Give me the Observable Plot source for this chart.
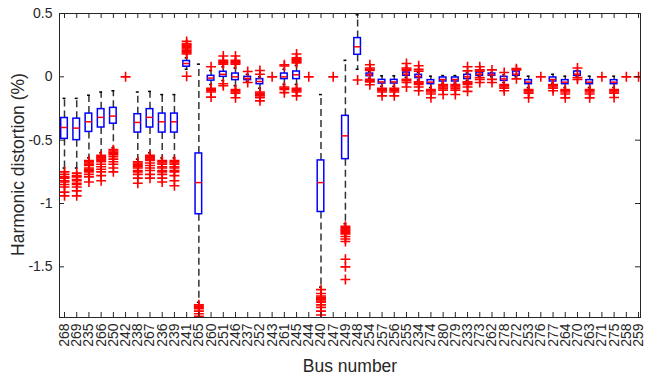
<!DOCTYPE html>
<html><head><meta charset="utf-8">
<script src="https://cdn.jsdelivr.net/npm/d3@7"></script>
<script src="https://cdn.jsdelivr.net/npm/@observablehq/plot@0.6"></script>
<style>body{margin:0;background:#fff;overflow:hidden}</style>
</head><body><div id="chart"></div>
<script>
const buses = [268,269,235,266,250,242,238,267,236,239,241,265,260,251,246,237,252,243,261,245,244,240,247,249,248,254,257,256,255,234,274,280,279,233,273,262,278,272,253,276,277,264,270,263,271,275,258,259];
const q1  = [-0.49,-0.50,-0.435,-0.40,-0.37,null,-0.44,-0.40,-0.44,-0.44,0.08,-1.085,-0.03,0.0,-0.026,-0.026,-0.058,null,-0.018,-0.018,null,-1.067,null,-0.65,0.174,0.005,-0.053,-0.053,0.008,-0.01,-0.058,-0.037,-0.037,-0.018,0.008,0.008,-0.032,0.008,-0.058,null,-0.037,-0.058,0.008,-0.058,null,-0.058,null,null];
const med = [-0.40,-0.405,-0.355,-0.32,-0.31,null,-0.36,-0.32,-0.355,-0.355,0.105,-0.835,-0.01,0.02,0.0,-0.013,-0.037,null,0.0,0.016,null,-0.835,null,-0.466,0.237,0.016,-0.04,-0.04,0.021,0.003,-0.042,-0.021,-0.021,0.0,0.021,0.016,-0.016,0.021,-0.042,null,-0.021,-0.042,0.021,-0.042,null,-0.042,null,null];
const q3  = [-0.325,-0.33,-0.29,-0.255,-0.245,null,-0.295,-0.255,-0.29,-0.29,0.125,-0.605,0.008,0.04,0.026,0.0,-0.018,null,0.026,0.042,null,-0.66,null,-0.308,0.306,0.026,-0.024,-0.024,0.034,0.016,-0.026,-0.005,-0.005,0.016,0.034,0.026,0.0,0.042,-0.026,null,-0.005,-0.026,0.042,-0.026,null,-0.026,null,null];
const wlo = [-0.72,-0.72,-0.64,-0.60,-0.56,null,-0.65,-0.60,-0.64,-0.64,0.06,-1.78,-0.06,-0.03,-0.07,-0.035,-0.09,null,-0.06,-0.06,null,-1.66,null,-1.16,0.06,-0.01,-0.075,-0.075,-0.005,-0.025,-0.085,-0.05,-0.05,-0.03,0.0,0.0,-0.045,0.0,-0.085,null,-0.05,-0.085,0.0,-0.085,null,-0.085,null,null];
const whi = [-0.17,-0.17,-0.145,-0.12,-0.11,null,-0.12,-0.115,-0.14,-0.14,0.15,0.10,0.05,0.08,0.07,0.02,0.0,null,0.06,0.09,null,-0.14,null,0.13,0.49,0.04,0.008,0.008,0.045,0.035,0.005,0.01,0.01,0.03,0.04,0.035,0.015,0.05,0.005,null,0.02,0.005,0.05,0.005,null,0.005,null,null];
const outliers = [
  [-0.75,-0.77,-0.79,-0.80,-0.82,-0.83,-0.85,-0.87,-0.91,-0.94],
  [-0.76,-0.78,-0.79,-0.81,-0.82,-0.84,-0.85,-0.87,-0.90,-0.94],
  [-0.66,-0.67,-0.68,-0.69,-0.70,-0.72,-0.73,-0.74,-0.75,-0.77,-0.79,-0.83],
  [-0.62,-0.63,-0.64,-0.65,-0.66,-0.67,-0.69,-0.71,-0.73,-0.75,-0.78,-0.82],
  [-0.575,-0.585,-0.595,-0.605,-0.615,-0.63,-0.65,-0.67,-0.69,-0.72,-0.75],
  [0.0],
  [-0.67,-0.68,-0.69,-0.70,-0.71,-0.72,-0.74,-0.75,-0.77,-0.80,-0.84],
  [-0.62,-0.63,-0.64,-0.65,-0.66,-0.68,-0.70,-0.72,-0.74,-0.77,-0.80],
  [-0.66,-0.67,-0.68,-0.69,-0.71,-0.72,-0.74,-0.75,-0.77,-0.80,-0.83],
  [-0.66,-0.67,-0.68,-0.69,-0.71,-0.72,-0.74,-0.75,-0.78,-0.82,-0.86],
  [0.18,0.19,0.20,0.21,0.22,0.23,0.24,0.25,0.26,0.28,0.005],
  [-1.80,-1.81,-1.82,-1.83,-1.85,-1.87,-1.89],
  [0.08,-0.09,-0.10,-0.11,-0.12,-0.16],
  [0.10,0.11,0.12,0.13,0.165,-0.055,-0.07],
  [0.10,0.11,0.12,0.13,0.165,-0.10,-0.11,-0.12,-0.13,-0.165],
  [0.042,-0.045],
  [0.05,0.02,-0.12,-0.13,-0.14,-0.15,-0.165,-0.19],
  [0.0],
  [0.085,0.095,-0.08,-0.09,-0.10,-0.125],
  [0.11,0.12,0.13,0.14,0.15,0.18,-0.09,-0.10,-0.11,-0.12,-0.15],
  [0.0],
  [-1.68,-1.71,-1.73,-1.74,-1.75,-1.76,-1.77,-1.78,-1.80,-1.82,-1.85,-1.88],
  [0.0],
  [-1.18,-1.19,-1.20,-1.21,-1.22,-1.23,-1.24,-1.26,-1.28,-1.30,-1.44,-1.50,-1.60],
  [-0.025],
  [0.05,0.06,0.07,0.095,-0.02,-0.03,-0.04,-0.063],
  [-0.09,-0.10,-0.11,-0.12,-0.15],
  [-0.09,-0.10,-0.11,-0.12,-0.15],
  [0.05,0.06,0.07,0.105,-0.02,-0.03,-0.045,-0.08],
  [0.045,0.06,0.087,-0.04,-0.05,-0.06,-0.08,-0.11],
  [-0.10,-0.11,-0.12,-0.135,-0.165],
  [-0.06,-0.07,-0.08,-0.09,-0.105,-0.14],
  [-0.06,-0.07,-0.08,-0.09,-0.105,-0.14],
  [0.08,0.047,-0.04,-0.05,-0.06,-0.08,-0.115],
  [0.045,0.055,0.08,-0.005,-0.02,-0.045],
  [0.055,-0.02,-0.045],
  [0.034,-0.06,-0.07,-0.08,-0.09,-0.11],
  [0.055,0.065,-0.016],
  [-0.10,-0.11,-0.12,-0.13,-0.165],
  [0.0],
  [-0.06,-0.07,-0.08,-0.09,-0.11],
  [-0.10,-0.11,-0.12,-0.135,-0.166],
  [0.07,-0.005,-0.02],
  [-0.10,-0.11,-0.12,-0.135,-0.166],
  [0.0],
  [-0.10,-0.11,-0.12,-0.13,-0.163],
  [0.0],
  [0.0]
];
const yTicks = [0.5, 0, -0.5, -1, -1.5];

const idx = buses.map((_, i) => i);
const boxes = idx.filter(i => q1[i] != null).map(i => ({i, q1: q1[i], med: med[i], q3: q3[i], lo: wlo[i], hi: whi[i]}));
const outs = idx.flatMap(i => outliers[i].map(v => ({i, v})));
const plus = {draw(ctx, size) { const r = Math.sqrt(size) / 2; ctx.moveTo(-r, 0); ctx.lineTo(r, 0); ctx.moveTo(0, -r); ctx.lineTo(0, r); }};
const hw = 0.27, cw = 0.12;
const W = 645, H = 376, mL = 59, mR = 5, mT = 13, mB = 59;
const iw = W - mL - mR, ih = H - mT - mB, tk = 5;
const font = "'Liberation Sans', Arial, Helvetica, sans-serif";

const chart = Plot.plot({
  width: W, height: H,
  marginLeft: mL, marginRight: mR, marginTop: mT, marginBottom: mB,
  style: {fontFamily: font, background: "white", color: "#262626"},
  x: {type: "linear", domain: [-0.41, 47.16], axis: null},
  y: {domain: [-1.9, 0.5], axis: null},
  marks: [
    Plot.ruleX(boxes, {x: "i", y1: "q3", y2: "hi", stroke: "#333", strokeWidth: 1.5, strokeDasharray: "7,4", clip: true}),
    Plot.ruleX(boxes, {x: "i", y1: "q1", y2: "lo", stroke: "#333", strokeWidth: 1.5, strokeDasharray: "7,4", clip: true}),
    Plot.ruleY(boxes, {y: "hi", x1: d => d.i - cw, x2: d => d.i + cw, stroke: "#000", strokeWidth: 1.5, clip: true}),
    Plot.ruleY(boxes, {y: "lo", x1: d => d.i - cw, x2: d => d.i + cw, stroke: "#000", strokeWidth: 1.5, clip: true}),
    Plot.rect(boxes, {x1: d => d.i - hw, x2: d => d.i + hw, y1: "q1", y2: "q3", fill: "none", stroke: "#0000ff", strokeWidth: 1.5, clip: true}),
    Plot.ruleY(boxes, {y: "med", x1: d => d.i - hw, x2: d => d.i + hw, stroke: "#ff0000", strokeWidth: 1.5, clip: true}),
    Plot.dot(outs, {x: "i", y: "v", symbol: plus, r: 5.6, fill: "none", stroke: "#ff0000", strokeWidth: 1.6, clip: true}),
    Plot.frame({stroke: "#262626", strokeWidth: 1}),
    Plot.tickX(idx, {x: d => d, insetTop: ih - tk, stroke: "#262626"}),
    Plot.tickX(idx, {x: d => d, insetBottom: ih - tk, stroke: "#262626"}),
    Plot.tickY(yTicks, {y: d => d, insetRight: iw - tk, stroke: "#262626"}),
    Plot.tickY(yTicks, {y: d => d, insetLeft: iw - tk, stroke: "#262626"}),
    Plot.axisX(idx, {tickSize: 0, tickRotate: -90, tickPadding: 6, tickFormat: i => String(buses[i]), fontSize: 14, label: null}),
    Plot.axisY(yTicks, {tickSize: 0, tickPadding: 7, tickFormat: d => String(d), fontSize: 14, label: null}),
    Plot.text(["Bus number"], {frameAnchor: "bottom", lineAnchor: "middle", dy: 49, fontSize: 17.5, fill: "#262626"}),
    Plot.text(["Harmonic distortion (%)"], {frameAnchor: "left", textAnchor: "middle", lineAnchor: "middle", rotate: -90, dx: -41, dy: -1, fontSize: 17.5, fill: "#262626"})
  ]
});
document.getElementById("chart").append(chart);
</script>
</body></html>
